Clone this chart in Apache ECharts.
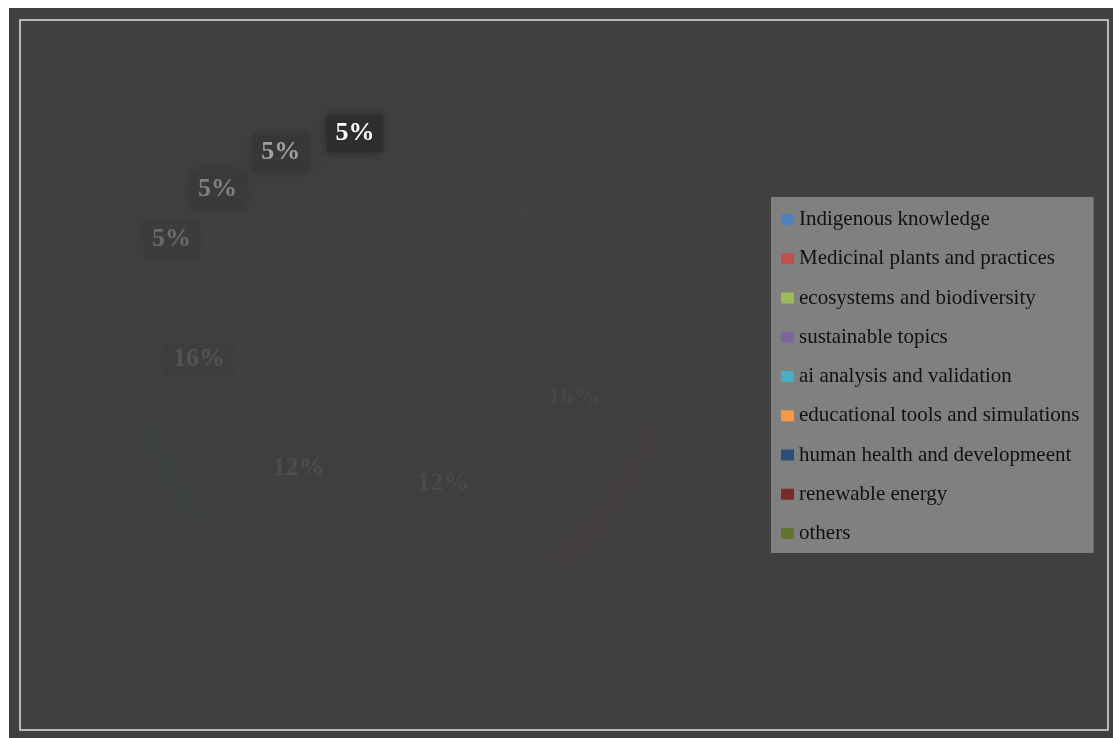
<!DOCTYPE html>
<html>
<head>
<meta charset="utf-8">
<script src="https://cdn.jsdelivr.net/npm/echarts@6/dist/echarts.min.js"></script>
<style>
  html, body { margin: 0; padding: 0; background: #ffffff; }
  #chart { position: absolute; left: 9px; top: 8px; width: 1104px; height: 730px; }
</style>
</head>
<body>
<div id="chart"></div>
<script>
// Topic categories and their shares (percent)
const categories = [
  'Indigenous knowledge',
  'Medicinal plants and practices',
  'ecosystems and biodiversity',
  'sustainable topics',
  'ai analysis and validation',
  'educational tools and simulations',
  'human health and developmeent',
  'renewable energy',
  'others'
];
const shares = [24, 16, 12, 12, 16, 5, 5, 5, 5];

// Office-style palette, one colour per category
const palette = ['#4F81BD', '#C0504D', '#9BBB59', '#8064A2', '#4BACC6', '#F79646', '#2C4D75', '#772C2A', '#5F7530'];
// How strongly each data label stands out from the dark plot area
const labelStrength = [0.015, 0.03, 0.05, 0.07, 0.1, 0.22, 0.34, 0.5, 1];

const BG = '#404040';

function rgb(hex) {
  const h = hex.replace('#', '');
  return [0, 2, 4].map(i => parseInt(h.substr(i, 2), 16));
}
function mix(a, b, t) {
  const pa = rgb(a), pb = rgb(b);
  return 'rgb(' + pa.map((v, i) => Math.round(v + (pb[i] - v) * t)).join(',') + ')';
}
function shade(hex, f) {
  return '#' + rgb(hex).map(v => Math.round(v * f).toString(16).padStart(2, '0')).join('');
}

// mid angle of each slice, degrees clockwise from 12 o'clock
const total = shares.reduce((s, v) => s + v, 0);
const midAngles = [];
let acc = 0;
shares.forEach(v => { midAngles.push((acc + v / 2) / total * 360); acc += v; });

// pie geometry (chart pixels)
const CX = 390, CY = 318, R = 270, DEPTH = 30;
// labels sit on a flattened ring around the pie centre
const LCX = 385, LCY = 322, LRX = 320, LRY = 255;

const faceData = categories.map((name, i) => {
  const box = mix(BG, '#2e2e2e', labelStrength[i]);
  return {
    name: name,
    value: shares[i],
    itemStyle: { color: mix(BG, palette[i], 0.014) },
    label: {
      color: mix(BG, '#ffffff', labelStrength[i]),
      backgroundColor: box,
      shadowColor: box
    }
  };
});
const sideData = categories.map((name, i) => ({
  name: name,
  value: shares[i],
  itemStyle: { color: mix(BG, shade(palette[i], 0.6), 0.05) }
}));

const chart = echarts.init(document.getElementById('chart'), null, { renderer: 'canvas' });
chart.setOption({
  animation: false,
  backgroundColor: BG,
  graphic: [{
    type: 'rect',
    shape: { x: 11, y: 12, width: 1088, height: 710 },
    style: { fill: 'none', stroke: '#b8b8b8', lineWidth: 2 },
    silent: true,
    z: 100
  }],
  legend: {
    orient: 'vertical',
    left: 762,
    top: 189,
    backgroundColor: '#808080',
    padding: [12, 14, 9, 10],
    itemWidth: 13,
    itemHeight: 11,
    itemGap: 18.25,
    icon: 'rect',
    selectedMode: false,
    textStyle: { fontFamily: 'Liberation Serif', fontSize: 21, color: '#111111', lineHeight: 21 },
    data: categories.map((name, i) => ({ name: name, itemStyle: { color: palette[i], opacity: 1 } }))
  },
  series: [
    {
      // side wall of the disc
      type: 'pie',
      center: [CX, CY + DEPTH],
      radius: R,
      silent: true,
      z: 1,
      label: { show: false },
      labelLine: { show: false },
      itemStyle: { borderWidth: 0 },
      data: sideData
    },
    {
      type: 'pie',
      center: [CX, CY],
      radius: R,
      z: 2,
      avoidLabelOverlap: false,
      itemStyle: { borderWidth: 0 },
      labelLine: { show: false },
      label: {
        show: true,
        position: 'inside',
        formatter: p => p.value + '%',
        fontFamily: 'Liberation Serif',
        fontWeight: 'bold',
        fontSize: 26,
        lineHeight: 26,
        padding: [6, 9, 6, 9],
        shadowBlur: 10
      },
      labelLayout: function (params) {
        const i = params.dataIndex;
        const k = shares[i] < 10 ? 0.78 : 0.62;
        const a = midAngles[i] * Math.PI / 180;
        return {
          x: LCX + LRX * k * Math.sin(a),
          y: LCY - LRY * k * Math.cos(a),
          align: 'center',
          verticalAlign: 'middle'
        };
      },
      data: faceData
    }
  ]
});
</script>
</body>
</html>
